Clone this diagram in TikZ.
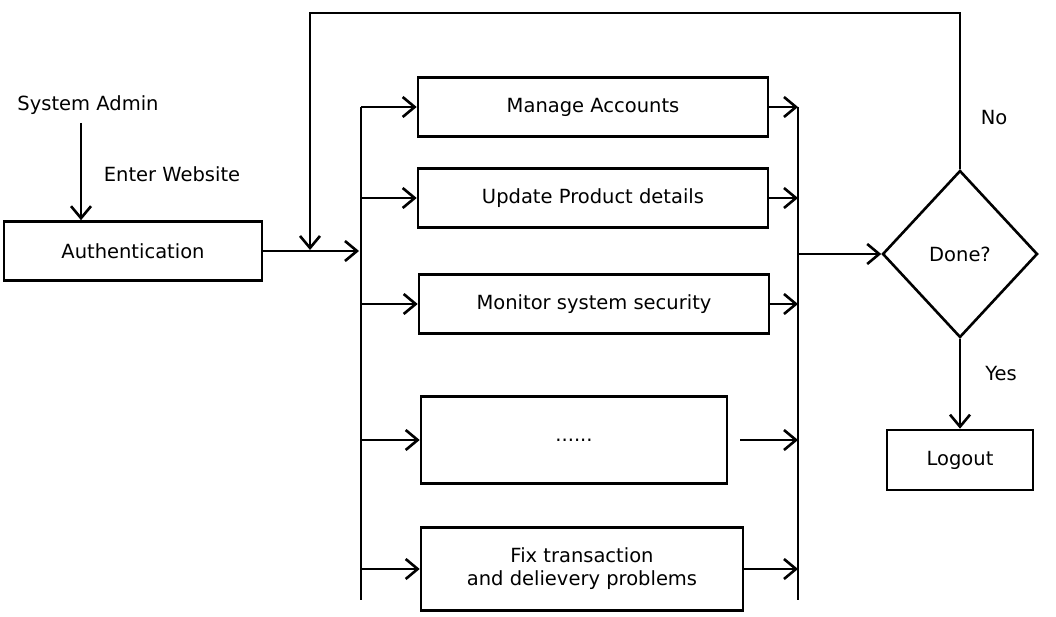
\documentclass[tikz,border=0pt]{standalone}
\usepackage{fontspec}
\setmainfont{DejaVu Sans}
\usetikzlibrary{arrows.meta,shapes.geometric}

\begin{document}
\begin{tikzpicture}[x=1pt,y=-1pt,line width=2.6pt,
    >={Straight Barb[length=12pt,width=20pt,line width=2.6pt]},
    font=\fontsize{19.5}{23}\selectfont]

        \useasboundingbox (0,0) rectangle (1056,617);

        \begin{scope}[every node/.style={draw,rectangle,inner sep=0pt,align=center}]
          \node[minimum width=258pt,minimum height=59pt] (auth)    at (133,251) {Authentication};
          \node[minimum width=350pt,minimum height=59pt] (manage)  at (593,107) {Manage Accounts};
          \node[minimum width=350pt,minimum height=59pt] (update)  at (593,198) {Update Product details};
          \node[minimum width=350pt,minimum height=59pt] (monitor) at (594,304) {Monitor system security};
          \node[minimum width=306pt,minimum height=87pt] (more)    at (574,440) {......};
          \node[minimum width=322pt,minimum height=83pt] (fix)     at (582,569) {Fix transaction\\and delievery problems};
          \node[minimum width=146pt,minimum height=60pt] (logout)  at (960,460) {Logout};
          \node[diamond,minimum width=155pt,minimum height=167pt] (done) at (960,254) {Done?};
        \end{scope}

        \begin{scope}[every node/.style={inner sep=0pt}]
          \node (admin) at (88,105)  {System Admin};
          \node (enter) at (172,174) {Enter Website};
          \node (no)    at (994,118) {No};
          \node (yes)   at (1001,374) {Yes};
        \end{scope}

        % bus points
        \coordinate (ltop) at (361,107);
        \coordinate (lbot) at (361,600);
        \coordinate (lin)  at (359,251);
        \coordinate (l1) at (361,107);
        \coordinate (l2) at (361,198);
        \coordinate (l3) at (361,304);
        \coordinate (l4) at (361,440);
        \coordinate (l5) at (361,569);
        \coordinate (rtop) at (798,107);
        \coordinate (rbot) at (798,600);
        \coordinate (rout) at (798,254);
        \coordinate (r1) at (798,107);
        \coordinate (r2) at (798,198);
        \coordinate (r3) at (798,304);
        \coordinate (r4) at (798,440);
        \coordinate (r5) at (798,569);
        \coordinate (m0) at (740,440);
        \coordinate (fbtop) at (960,13);
        \coordinate (fbend) at (310,250);
        \coordinate (a0) at (81,123);

        \draw (ltop) -- (lbot);
        \draw (rtop) -- (rbot);

        \draw[->] (a0) -- (auth.north -| a0);
        \draw[->] (auth.east) -- (lin);
        \draw[->] (done.north) -- (fbtop) -| (fbend);

        \draw[->] (l1) -- (manage.west);
        \draw[->] (l2) -- (update.west);
        \draw[->] (l3) -- (monitor.west);
        \draw[->] (l4) -- (more.west);
        \draw[->] (l5) -- (fix.west);

        \draw[->] (manage.east)  -- (r1);
        \draw[->] (update.east)  -- (r2);
        \draw[->] (monitor.east) -- (r3);
        \draw[->] (m0)           -- (r4);
        \draw[->] (fix.east)     -- (r5);

        \draw[->] (rout) -- (done.west);
        \draw[->] (done.south) -- (logout.north);

\end{tikzpicture}
\end{document}
